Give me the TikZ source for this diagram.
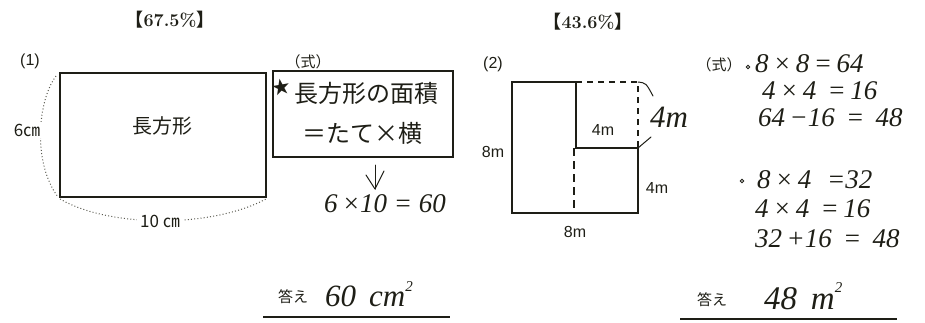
\documentclass[tikz,border=0pt]{standalone}
\usepackage{fontspec}
\newfontfamily\cjk{Noto Sans CJK JP}
\newfontfamily\hand{Liberation Serif}
\newfontfamily\arial{Liberation Sans}
\newfontfamily\sym{DejaVu Sans}
\definecolor{ink}{HTML}{1E1E16}
\definecolor{dotc}{HTML}{5A5A50}
\tikzset{
  every node/.style={inner sep=0pt, text=ink},
  title/.style={font=\bfseries\fontsize{18}{18}\selectfont},
  lab/.style={font=\arial\fontsize{16}{16}\selectfont},
  jp/.style={font=\cjk\fontsize{15}{15}\selectfont},
  ansjp/.style={font=\cjk\fontsize{15}{15}\selectfont},
  hw/.style={font=\hand\itshape\fontsize{27}{27}\selectfont},
  hwjp/.style={font=\cjk\fontsize{24}{24}\selectfont},
  figline/.style={draw=ink, line width=1.3pt},
  hwline/.style={draw=ink, line width=1pt, line cap=round, line join=round},
  dotarc/.style={draw=dotc, line width=1pt, dash pattern=on 1pt off 2.2pt},
  dashln/.style={draw=ink, line width=1.1pt, dash pattern=on 6pt off 5pt},
  dashthick/.style={draw=ink, line width=1.8pt, dash pattern=on 8pt off 5pt},
}
\begin{document}
\begin{tikzpicture}[x=1pt,y=-1pt]
\useasboundingbox (0,0) rectangle (925,322);
% titles
\node[title] (t1) at (170,20) {{\cjk 【}67.5\%{\cjk 】}};
\node[title] (t2) at (588,22) {{\cjk 【}43.6\%{\cjk 】}};
% ---- problem (1)
\node[lab] (p1) at (30,61) {(1)};
\node[figline, draw, minimum width=206pt, minimum height=124pt] (r1) at (163,135) {};
\node[font=\cjk\fontsize{20}{20}\selectfont] (r1t) at (162,126) {長方形};
\path[dotarc] (56,76) .. controls (38,100) and (32,162) .. (58,197);
\path[dotarc] (60,199) .. controls (110,228) and (212,228) .. (266,199);
\node[font=\cjk\fontsize{17}{17}\selectfont, fill=white, inner sep=2pt] (l6) at (27,130) {6㎝};
\node[font=\cjk\fontsize{17}{17}\selectfont, fill=white, inner sep=3pt] (l10) at (160,221) {10 ㎝};
% formula box
\node[jp] (s1) at (308,62) {（式）};
\node[draw=ink, line width=1.2pt, minimum width=180pt, minimum height=86pt] (box) at (363,114) {};
\node[font=\sym\fontsize{22}{22}\selectfont, rotate=10] (star) at (281,87) {★};
\node[hwjp] (bx1) at (366,93) {長方形の面積};
\node[hwjp] (bx2) at (362,133) {＝たて×横};
\coordinate (a1) at (375,165);
\coordinate (a2) at (375,189);
\path[hwline] (a1) -- (a2);
\path[hwline] (366,175) -- (a2) -- (384,171);
\node[hw] (eq1) at (385,204) {6\,×10 = 60};
% answer 1
\node[ansjp] (ans1) at (293,297) {答え};
\node[hw, font=\hand\itshape\fontsize{31}{31}\selectfont, anchor=west] (av1) at (325,294) {60\, cm\raisebox{0.5em}{\fontsize{15}{15}\selectfont 2}};
\coordinate (u1a) at (263,317);
\coordinate (u1b) at (450,317);
\path[draw=ink, line width=1.3pt] (u1a) -- (u1b);
% ---- problem (2)
\node[lab] (p2) at (493,64) {(2)};
\coordinate (A) at (512,82);
\coordinate (B) at (576,82);
\coordinate (C) at (576,148);
\coordinate (D) at (638,148);
\coordinate (E) at (638,213);
\coordinate (F) at (512,213);
\coordinate (G) at (638,82);
\coordinate (H) at (574,148);
\coordinate (I) at (574,213);
\path[figline] (C) -- (B) -- (A) -- (F) -- (E) -- (D) -- cycle;
\path[dashln] (B) -- (G) -- (D);
\path[dashthick] (H) -- (I);
\node[lab] (m1) at (603,130) {4m};
\node[lab] (m2) at (493,152) {8m};
\node[lab] (m3) at (657,188) {4m};
\node[lab] (m4) at (575,232) {8m};
\node[hw, font=\hand\itshape\fontsize{31}{31}\selectfont] (hm) at (669,117) {4m};
\path[hwline] (G) .. controls (646,83) .. (653,96);
\path[hwline] (D) -- (651,137);
% formulas (2)
\node[jp] (s2) at (719,65) {（式）};
\draw[ink, line width=0.9pt] (748,67) circle (1.8pt);
\node[hw, anchor=west] (e1) at (755,64) {8\,×\,8\,=\,64};
\node[hw, anchor=west] (e2) at (762,91) {4\,×\,4\, =\,16};
\node[hw, anchor=west] (e3) at (758,118) {64\,−16\, = \,48};
\draw[ink, line width=0.9pt] (742,181) circle (1.8pt);
\node[hw, anchor=west] (e4) at (757,180) {8\,×\,4\, \,=32};
\node[hw, anchor=west] (e5) at (755,209) {4\,×\,4\, =\,16};
\node[hw, anchor=west] (e6) at (755,239) {32\,+16\, = \,48};
% answer 2
\node[ansjp] (ans2) at (712,300) {答え};
\node[hw, font=\hand\itshape\fontsize{33}{33}\selectfont, anchor=west] (av2) at (764,296) {48\, m\raisebox{0.5em}{\fontsize{15}{15}\selectfont 2}};
\coordinate (u2a) at (680,319);
\coordinate (u2b) at (897,319);
\path[draw=ink, line width=1.3pt] (u2a) -- (u2b);
\end{tikzpicture}
\end{document}
